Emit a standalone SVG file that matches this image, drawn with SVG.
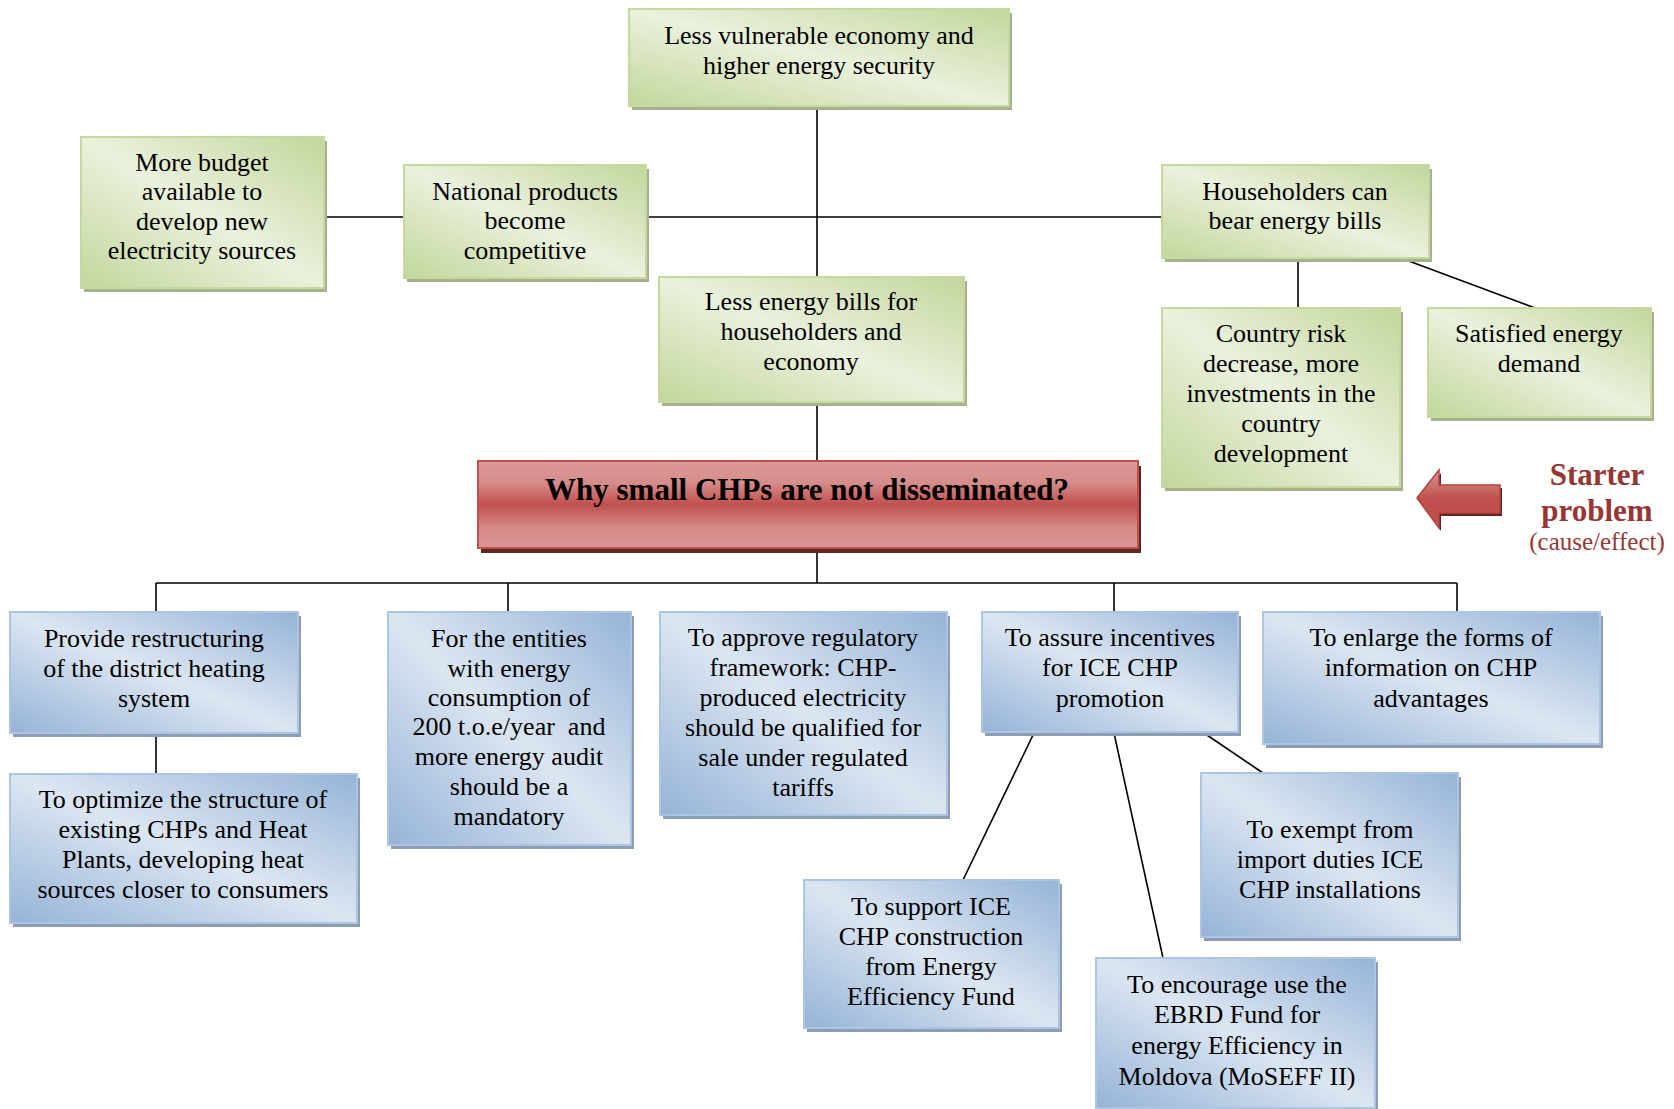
<svg xmlns="http://www.w3.org/2000/svg" width="1674" height="1109" viewBox="0 0 1674 1109">
<style>
.t{font-family:"Liberation Serif","Times New Roman",serif;font-size:26px;fill:#000;text-anchor:middle}
.tb{font-family:"Liberation Serif","Times New Roman",serif;font-size:31px;font-weight:bold;fill:#000;text-anchor:middle}
.sr{font-family:"Liberation Serif","Times New Roman",serif;fill:#953735;text-anchor:middle}
.g{fill:url(#gg);stroke:#C5D89F;stroke-width:2}
.gs{fill:#A7B18E}
.b{fill:url(#bg);stroke:#AEC5E1;stroke-width:2}
.bs{fill:#8D9DB5}
.ln{stroke:#000;stroke-width:1.6;fill:none}
</style>
<defs>
<linearGradient id="gg" x1="1" y1="0" x2="0" y2="1">
<stop offset="0" stop-color="#C3D69B"/>
<stop offset="0.5" stop-color="#EAF1DD"/>
<stop offset="1" stop-color="#C3D69B"/>
</linearGradient>
<linearGradient id="bg" x1="1" y1="0" x2="0" y2="1">
<stop offset="0" stop-color="#95B3D7"/>
<stop offset="0.5" stop-color="#DCE6F2"/>
<stop offset="1" stop-color="#95B3D7"/>
</linearGradient>
<linearGradient id="rg" x1="0" y1="0" x2="0" y2="1">
<stop offset="0" stop-color="#DB9997"/>
<stop offset="0.25" stop-color="#D68D8B"/>
<stop offset="0.5" stop-color="#C0504D"/>
<stop offset="0.75" stop-color="#D48886"/>
<stop offset="1" stop-color="#DA9694"/>
</linearGradient>
<linearGradient id="ag" x1="0" y1="0" x2="0" y2="1">
<stop offset="0" stop-color="#D99694"/>
<stop offset="0.5" stop-color="#C0504D"/>
<stop offset="1" stop-color="#C0504D"/>
</linearGradient>
</defs>

<g id="connectors">
<line class="ln" x1="324" y1="217" x2="404" y2="217"/>
<line class="ln" x1="646" y1="217" x2="1162" y2="217"/>
<line class="ln" x1="817" y1="106" x2="817" y2="277"/>
<line class="ln" x1="817" y1="402" x2="817" y2="461"/>
<line class="ln" x1="817" y1="548" x2="817" y2="583"/>
<line class="ln" x1="156" y1="583" x2="1457" y2="583"/>
<line class="ln" x1="156" y1="583" x2="156" y2="612"/>
<line class="ln" x1="508" y1="583" x2="508" y2="612"/>
<line class="ln" x1="1114" y1="583" x2="1114" y2="612"/>
<line class="ln" x1="1457" y1="583" x2="1457" y2="612"/>
<line class="ln" x1="156" y1="733" x2="156" y2="774"/>
<line class="ln" x1="1298" y1="258" x2="1298" y2="308"/>
<line class="ln" x1="1398" y1="257" x2="1535" y2="308"/>
<line class="ln" x1="1034" y1="733" x2="963" y2="880"/>
<line class="ln" x1="1114" y1="733" x2="1163" y2="958"/>
<line class="ln" x1="1201" y1="731" x2="1263" y2="773"/>
</g>

<g id="n-top">
<rect class="gs" x="632" y="13" width="380" height="97"/>
<rect class="g" x="629" y="9" width="380" height="97"/>
<text class="t" x="819" y="44">Less vulnerable economy and</text>
<text class="t" x="819" y="74">higher energy security</text>
</g>

<g id="n-budget">
<rect class="gs" x="84" y="141" width="243" height="151"/>
<rect class="g" x="81" y="137" width="243" height="151"/>
<text class="t" x="202" y="171">More budget</text>
<text class="t" x="202" y="200">available to</text>
<text class="t" x="202" y="230">develop new</text>
<text class="t" x="202" y="259">electricity sources</text>
</g>

<g id="n-national">
<rect class="gs" x="407" y="169" width="242" height="113"/>
<rect class="g" x="404" y="165" width="242" height="113"/>
<text class="t" x="525" y="200">National products</text>
<text class="t" x="525" y="229">become</text>
<text class="t" x="525" y="259">competitive</text>
</g>

<g id="n-bills">
<rect class="gs" x="662" y="281" width="305" height="125"/>
<rect class="g" x="659" y="277" width="305" height="125"/>
<text class="t" x="811" y="310">Less energy bills for</text>
<text class="t" x="811" y="340">householders and</text>
<text class="t" x="811" y="370">economy</text>
</g>

<g id="n-householders">
<rect class="gs" x="1165" y="169" width="267" height="93"/>
<rect class="g" x="1162" y="165" width="267" height="93"/>
<text class="t" x="1295" y="200">Householders can</text>
<text class="t" x="1295" y="229">bear energy bills</text>
</g>

<g id="n-country">
<rect class="gs" x="1165" y="312" width="238" height="179"/>
<rect class="g" x="1162" y="308" width="238" height="179"/>
<text class="t" x="1281" y="342">Country risk</text>
<text class="t" x="1281" y="372">decrease, more</text>
<text class="t" x="1281" y="402">investments in the</text>
<text class="t" x="1281" y="432">country</text>
<text class="t" x="1281" y="462">development</text>
</g>

<g id="n-satisfied">
<rect class="gs" x="1431" y="312" width="223" height="109"/>
<rect class="g" x="1428" y="308" width="223" height="109"/>
<text class="t" x="1539" y="342">Satisfied energy</text>
<text class="t" x="1539" y="372">demand</text>
</g>

<g id="n-problem">
<rect x="481" y="466" width="660" height="87" fill="#632523"/>
<rect x="478" y="461" width="660" height="87" fill="url(#rg)" stroke="#C0504D" stroke-width="2"/>
<text class="tb" x="807" y="500">Why small CHPs are not disseminated?</text>
</g>

<g id="n-starter">
<polygon points="1419,501 1441,473 1441,488 1502,488 1502,516 1441,516 1441,531" fill="#632523"/>
<polygon points="1417,498 1439,470 1439,485 1500,485 1500,513 1439,513 1439,528" fill="url(#ag)" stroke="#B5443F" stroke-width="1.5"/>
<text class="sr" x="1597" y="485" font-size="31" font-weight="bold">Starter</text>
<text class="sr" x="1597" y="521" font-size="31" font-weight="bold">problem</text>
<text class="sr" x="1597" y="550" font-size="25">(cause/effect)</text>
</g>

<g id="n-restructuring">
<rect class="bs" x="13" y="616" width="288" height="121"/>
<rect class="b" x="10" y="612" width="288" height="121"/>
<text class="t" x="154" y="647">Provide restructuring</text>
<text class="t" x="154" y="677">of the district heating</text>
<text class="t" x="154" y="707">system</text>
</g>

<g id="n-optimize">
<rect class="bs" x="13" y="778" width="347" height="149"/>
<rect class="b" x="10" y="774" width="347" height="149"/>
<text class="t" x="183" y="808">To optimize the structure of</text>
<text class="t" x="183" y="838">existing CHPs and Heat</text>
<text class="t" x="183" y="868">Plants, developing heat</text>
<text class="t" x="183" y="898">sources closer to consumers</text>
</g>

<g id="n-entities">
<rect class="bs" x="391" y="616" width="243" height="233"/>
<rect class="b" x="388" y="612" width="243" height="233"/>
<text class="t" x="509" y="647">For the entities</text>
<text class="t" x="509" y="677">with energy</text>
<text class="t" x="509" y="706">consumption of</text>
<text class="t" x="509" y="735" xml:space="preserve">200 t.o.e/year  and</text>
<text class="t" x="509" y="765">more energy audit</text>
<text class="t" x="509" y="795">should be a</text>
<text class="t" x="509" y="825">mandatory</text>
</g>

<g id="n-approve">
<rect class="bs" x="663" y="616" width="287" height="203"/>
<rect class="b" x="660" y="612" width="287" height="203"/>
<text class="t" x="803" y="646">To approve regulatory</text>
<text class="t" x="803" y="676">framework: CHP-</text>
<text class="t" x="803" y="706">produced electricity</text>
<text class="t" x="803" y="736">should be qualified for</text>
<text class="t" x="803" y="766">sale under regulated</text>
<text class="t" x="803" y="796">tariffs</text>
</g>

<g id="n-incentives">
<rect class="bs" x="985" y="616" width="256" height="120"/>
<rect class="b" x="982" y="612" width="256" height="120"/>
<text class="t" x="1110" y="646">To assure incentives</text>
<text class="t" x="1110" y="676">for ICE CHP</text>
<text class="t" x="1110" y="707">promotion</text>
</g>

<g id="n-enlarge">
<rect class="bs" x="1266" y="616" width="337" height="132"/>
<rect class="b" x="1263" y="612" width="337" height="132"/>
<text class="t" x="1431" y="646">To enlarge the forms of</text>
<text class="t" x="1431" y="676">information on CHP</text>
<text class="t" x="1431" y="707">advantages</text>
</g>

<g id="n-exempt">
<rect class="bs" x="1204" y="777" width="257" height="164"/>
<rect class="b" x="1201" y="773" width="257" height="164"/>
<text class="t" x="1330" y="838">To exempt from</text>
<text class="t" x="1330" y="868">import duties ICE</text>
<text class="t" x="1330" y="898">CHP installations</text>
</g>

<g id="n-support">
<rect class="bs" x="807" y="884" width="255" height="148"/>
<rect class="b" x="804" y="880" width="255" height="148"/>
<text class="t" x="931" y="915">To support ICE</text>
<text class="t" x="931" y="945">CHP construction</text>
<text class="t" x="931" y="975">from Energy</text>
<text class="t" x="931" y="1005">Efficiency Fund</text>
</g>

<g id="n-encourage">
<rect class="bs" x="1099" y="962" width="279" height="150"/>
<rect class="b" x="1096" y="958" width="279" height="150"/>
<text class="t" x="1237" y="993">To encourage use the</text>
<text class="t" x="1237" y="1023">EBRD Fund for</text>
<text class="t" x="1237" y="1054">energy Efficiency in</text>
<text class="t" x="1237" y="1085">Moldova (MoSEFF II)</text>
</g>
</svg>
